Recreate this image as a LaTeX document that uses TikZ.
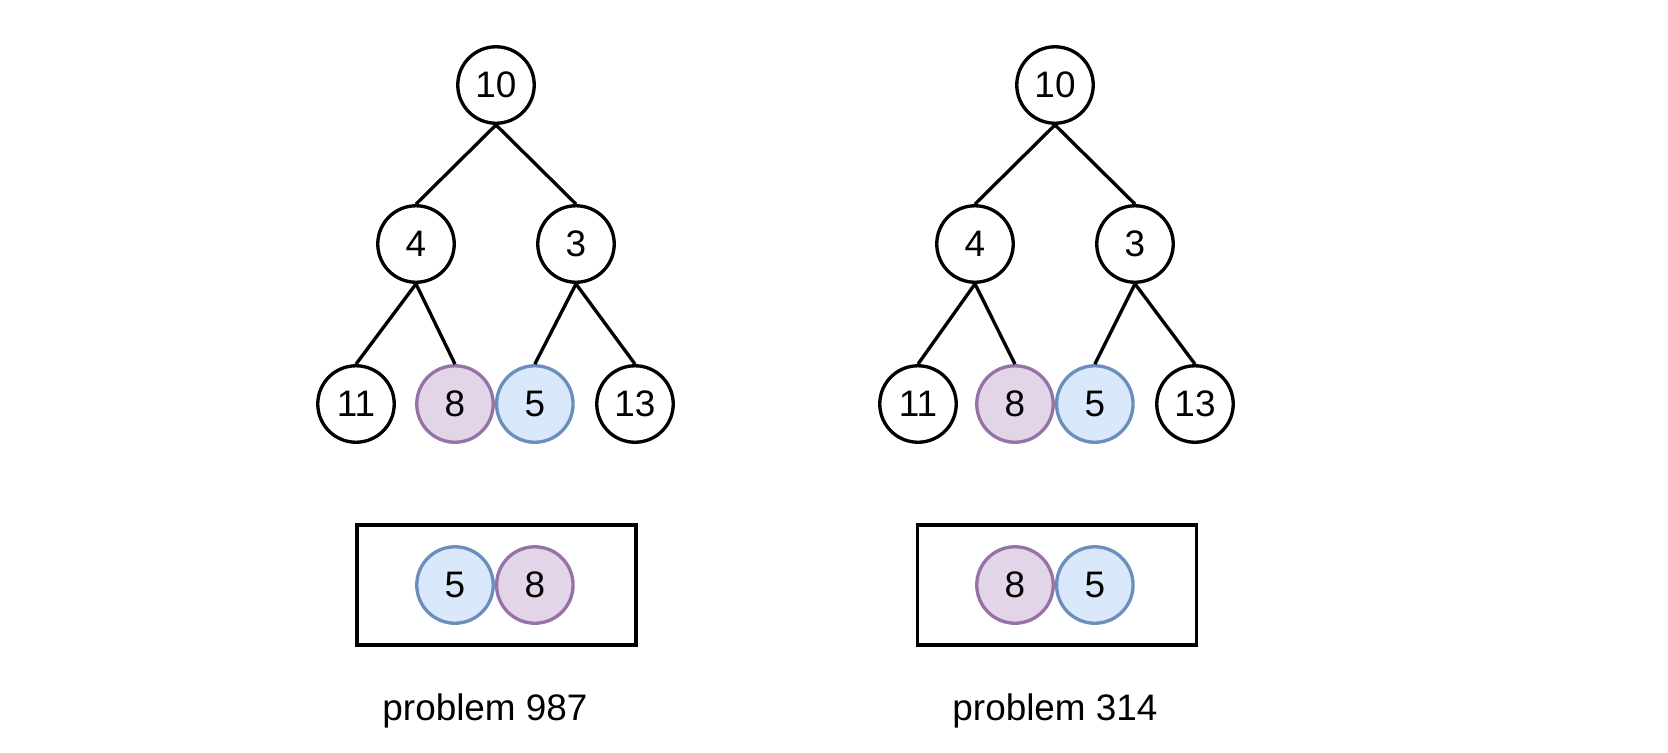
\documentclass[tikz,border=0pt]{standalone}
\usepackage{fontspec}
\setmainfont{Liberation Sans}
\usetikzlibrary{positioning}
\definecolor{purplefill}{HTML}{E1D5E7}
\definecolor{purpleline}{HTML}{9673A6}
\definecolor{bluefill}{HTML}{DAE8FC}
\definecolor{blueline}{HTML}{6C8EBF}

\begin{document}
\begin{tikzpicture}[x=0.02cm, y=-0.02cm, line width=1.9pt,
    vertex/.style={draw, circle, minimum size=1.53cm, inner sep=0pt, font=\fontsize{21}{24}\selectfont},
    pinkvertex/.style={vertex, draw=purpleline, fill=purplefill},
    bluevertex/.style={vertex, draw=blueline, fill=bluefill},
    heapbox/.style={draw, minimum width=5.58cm, minimum height=2.4cm, inner sep=0pt},
    caption/.style={anchor=base, font=\fontsize{21}{24}\selectfont}]
    \useasboundingbox (0,0) rectangle (1668,752);

    % Left tree
    \node (A0) [vertex] at (496,85) {10};
    \node (A1) [vertex] at (416,244) {4};
    \node (A2) [vertex] at (576,244) {3};
    \node (A3) [vertex] at (356,404) {11};
    \node (A4) [pinkvertex] at (455,404) {8};
    \node (A5) [bluevertex, right=0pt of A4] {5};
    \node (A6) [vertex] at (635,404) {13};

    % Left box
    \node (boxA) [heapbox] at (496.5,585) {};
    \node (qA1) [bluevertex] at (455,585) {5};
    \node (qA2) [pinkvertex, right=0pt of qA1] {8};
    \node (capA) [caption] at (485,720) {problem 987};

    % Right tree
    \node (B0) [vertex] at (1055,85) {10};
    \node (B1) [vertex] at (975,244) {4};
    \node (B2) [vertex] at (1135,244) {3};
    \node (B3) [vertex] at (918,404) {11};
    \node (B4) [pinkvertex] at (1015,404) {8};
    \node (B5) [bluevertex, right=0pt of B4] {5};
    \node (B6) [vertex] at (1195,404) {13};

    % Right box
    \node (boxB) [heapbox] at (1057,585) {};
    \node (qB1) [pinkvertex] at (1015,585) {8};
    \node (qB2) [bluevertex, right=0pt of qB1] {5};
    \node (capB) [caption] at (1055,720) {problem 314};

    % Edges
    \draw (A0.south) -- (A1.north);
    \draw (A0.south) -- (A2.north);
    \draw (A1.south) -- (A3.north);
    \draw (A1.south) -- (A4.north);
    \draw (A2.south) -- (A5.north);
    \draw (A2.south) -- (A6.north);
    \draw (B0.south) -- (B1.north);
    \draw (B0.south) -- (B2.north);
    \draw (B1.south) -- (B3.north);
    \draw (B1.south) -- (B4.north);
    \draw (B2.south) -- (B5.north);
    \draw (B2.south) -- (B6.north);
\end{tikzpicture}
\end{document}
